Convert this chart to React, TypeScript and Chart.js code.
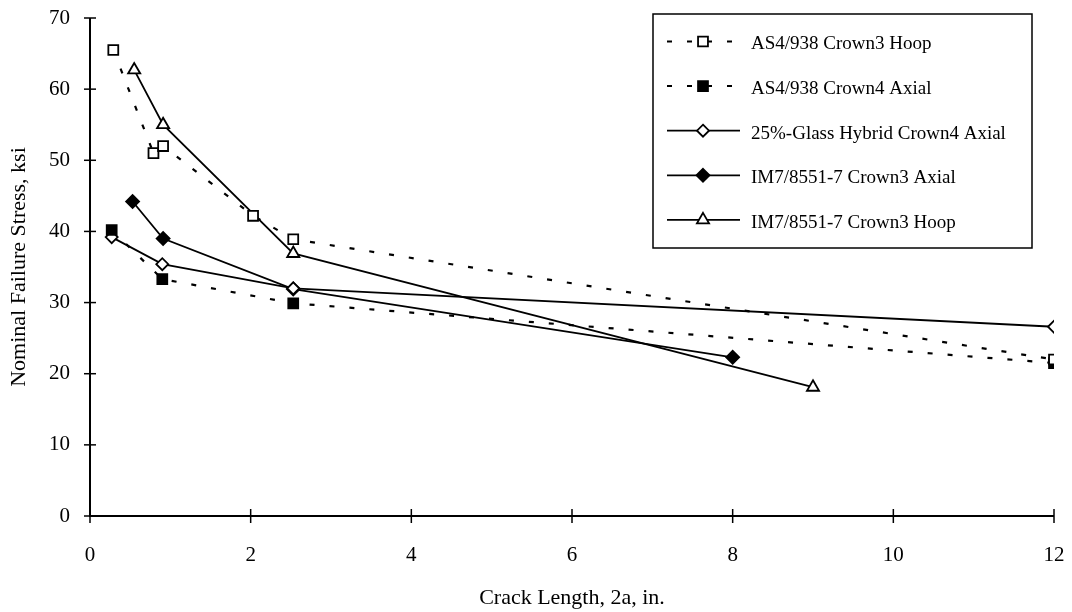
import React, { useEffect, useRef } from 'react';
import { Chart, registerables } from 'chart.js';

Chart.register(...registerables);

// ---- data ----
const seriesNames = [
  'AS4/938 Crown3 Hoop',
  'AS4/938 Crown4 Axial',
  '25%-Glass Hybrid Crown4 Axial',
  'IM7/8551-7 Crown3 Axial',
  'IM7/8551-7 Crown3 Hoop',
];
const as4HoopX = [0.29, 0.79, 0.91, 2.03, 2.53, 12];
const as4HoopY = [65.5, 51.0, 52.0, 42.2, 38.9, 22.0];
const as4AxialX = [0.27, 0.9, 2.53, 12];
const as4AxialY = [40.2, 33.3, 29.9, 21.5];
const glassX = [0.27, 0.9, 2.53, 12];
const glassY = [39.2, 35.4, 32.0, 26.6];
const im7AxialX = [0.53, 0.91, 2.53, 8];
const im7AxialY = [44.2, 39.0, 31.9, 22.3];
const im7HoopX = [0.55, 0.91, 2.53, 9];
const im7HoopY = [62.7, 55.0, 36.9, 18.1];
const xTicks = [0, 2, 4, 6, 8, 10, 12];
const yTicks = [0, 10, 20, 30, 40, 50, 60, 70];
const xTitle = 'Crack Length, 2a, in.';
const yTitle = 'Nominal Failure Stress, ksi';

const FONT = '"Liberation Serif", "Times New Roman", serif';

type Style = { shape: string; filled: boolean; dashed: boolean; radius: number };
const styles: Style[] = [
  { shape: 'rect', filled: false, dashed: true, radius: 7 },
  { shape: 'rect', filled: true, dashed: true, radius: 7 },
  { shape: 'rectRot', filled: false, dashed: false, radius: 6 },
  { shape: 'rectRot', filled: true, dashed: false, radius: 6.5 },
  { shape: 'triangle', filled: false, dashed: false, radius: 7 },
];

const xs = [as4HoopX, as4AxialX, glassX, im7AxialX, im7HoopX];
const ys = [as4HoopY, as4AxialY, glassY, im7AxialY, im7HoopY];

function drawMarker(ctx: CanvasRenderingContext2D, st: Style, x: number, y: number) {
  const r = st.radius;
  ctx.beginPath();
  if (st.shape === 'rect') {
    const s = Math.SQRT1_2 * r;
    ctx.rect(x - s, y - s, 2 * s, 2 * s);
  } else if (st.shape === 'rectRot') {
    ctx.moveTo(x, y - r);
    ctx.lineTo(x + r, y);
    ctx.lineTo(x, y + r);
    ctx.lineTo(x - r, y);
    ctx.closePath();
  } else {
    ctx.moveTo(x, y - r);
    ctx.lineTo(x + r * 0.866, y + r * 0.5);
    ctx.lineTo(x - r * 0.866, y + r * 0.5);
    ctx.closePath();
  }
  ctx.fillStyle = st.filled ? '#000' : '#fff';
  ctx.fill();
  ctx.setLineDash([]);
  ctx.lineWidth = 1.8;
  ctx.strokeStyle = '#000';
  ctx.stroke();
}

const framePlugin = {
  id: 'frame',
  beforeDatasetsDraw(chart: any) {
    const { ctx, chartArea, scales } = chart;
    const { left, right, top, bottom } = chartArea;
    ctx.save();
    ctx.strokeStyle = '#000';
    ctx.lineWidth = 2;
    ctx.setLineDash([]);
    ctx.beginPath();
    ctx.moveTo(left, top);
    ctx.lineTo(left, bottom);
    ctx.lineTo(right, bottom);
    ctx.stroke();
    ctx.lineWidth = 1.5;
    xTicks.forEach((v) => {
      const px = scales.x.getPixelForValue(v);
      ctx.beginPath();
      ctx.moveTo(px, bottom - 7);
      ctx.lineTo(px, bottom + 7);
      ctx.stroke();
    });
    yTicks.forEach((v) => {
      const py = scales.y.getPixelForValue(v);
      ctx.beginPath();
      ctx.moveTo(left - 6, py);
      ctx.lineTo(left + 6, py);
      ctx.stroke();
    });
    ctx.restore();
  },
  afterDraw(chart: any) {
    const { ctx } = chart;
    ctx.save();
    const bx = 653, by = 14, bw = 379, bh = 234;
    ctx.fillStyle = '#fff';
    ctx.fillRect(bx, by, bw, bh);
    ctx.strokeStyle = '#000';
    ctx.lineWidth = 1.5;
    ctx.setLineDash([]);
    ctx.strokeRect(bx, by, bw, bh);
    seriesNames.forEach((name, i) => {
      const st = styles[i];
      const cy = 41.5 + i * 44.6;
      ctx.beginPath();
      ctx.strokeStyle = '#000';
      ctx.lineWidth = st.dashed ? 2 : 1.8;
      ctx.setLineDash(st.dashed ? [5, 15] : []);
      ctx.moveTo(667, cy);
      ctx.lineTo(740, cy);
      ctx.stroke();
      drawMarker(ctx, st, 703, cy);
      ctx.fillStyle = '#000';
      ctx.font = `19px ${FONT}`;
      ctx.textBaseline = 'middle';
      ctx.textAlign = 'left';
      ctx.fillText(name, 751, cy + 3);
    });
    ctx.restore();
  },
};

export default function App() {
  const ref = useRef<HTMLCanvasElement | null>(null);
  useEffect(() => {
    document.body.style.margin = '0';
    const canvas = ref.current;
    if (!canvas) return;
    const datasets = seriesNames.map((name, i) => {
      const st = styles[i];
      return {
        label: name,
        data: xs[i].map((x, j) => ({ x, y: ys[i][j] })),
        showLine: true,
        borderColor: '#000',
        borderWidth: st.dashed ? 2.2 : 1.8,
        borderDash: st.dashed ? [5, 15] : [],
        pointStyle: st.shape,
        pointRadius: st.radius,
        pointBackgroundColor: st.filled ? '#000' : '#fff',
        pointBorderColor: '#000',
        pointBorderWidth: 1.8,
        tension: 0,
      };
    });
    const tickFont = { family: FONT, size: 21 };
    const chart = new Chart(canvas, {
      type: 'scatter',
      data: { datasets },
      plugins: [framePlugin],
      options: {
        responsive: false,
        animation: false,
        devicePixelRatio: 1,
        layout: { padding: { top: 18, right: 18, left: 0, bottom: 0 } },
        plugins: { legend: { display: false }, tooltip: { enabled: false } },
        scales: {
          x: {
            type: 'linear',
            min: 0,
            max: 12,
            afterBuildTicks: (s: any) => {
              s.ticks = xTicks.map((v) => ({ value: v }));
            },
            afterFit: (s: any) => {
              s.height = 96;
              s.paddingLeft = 0;
              s.paddingRight = 0;
            },
            grid: { display: false, drawTicks: false },
            border: { display: false },
            ticks: { font: tickFont, color: '#000', padding: 27, maxRotation: 0 },
            title: {
              display: true,
              text: xTitle,
              color: '#000',
              font: { family: FONT, size: 22 },
              padding: { top: 0, bottom: 1 },
            },
          },
          y: {
            type: 'linear',
            min: 0,
            max: 70,
            afterBuildTicks: (s: any) => {
              s.ticks = yTicks.map((v) => ({ value: v }));
            },
            afterFit: (s: any) => {
              s.width = 90;
              s.paddingTop = 0;
              s.paddingBottom = 0;
            },
            grid: { display: false, drawTicks: false },
            border: { display: false },
            ticks: { font: tickFont, color: '#000', padding: 20 },
            title: {
              display: true,
              text: yTitle,
              color: '#000',
              font: { family: FONT, size: 22 },
              padding: { top: 6, bottom: 0 },
            },
          },
        },
      } as any,
    });
    return () => chart.destroy();
  }, []);
  return <canvas ref={ref} width={1072} height={612} style={{ display: 'block' }} />;
}
